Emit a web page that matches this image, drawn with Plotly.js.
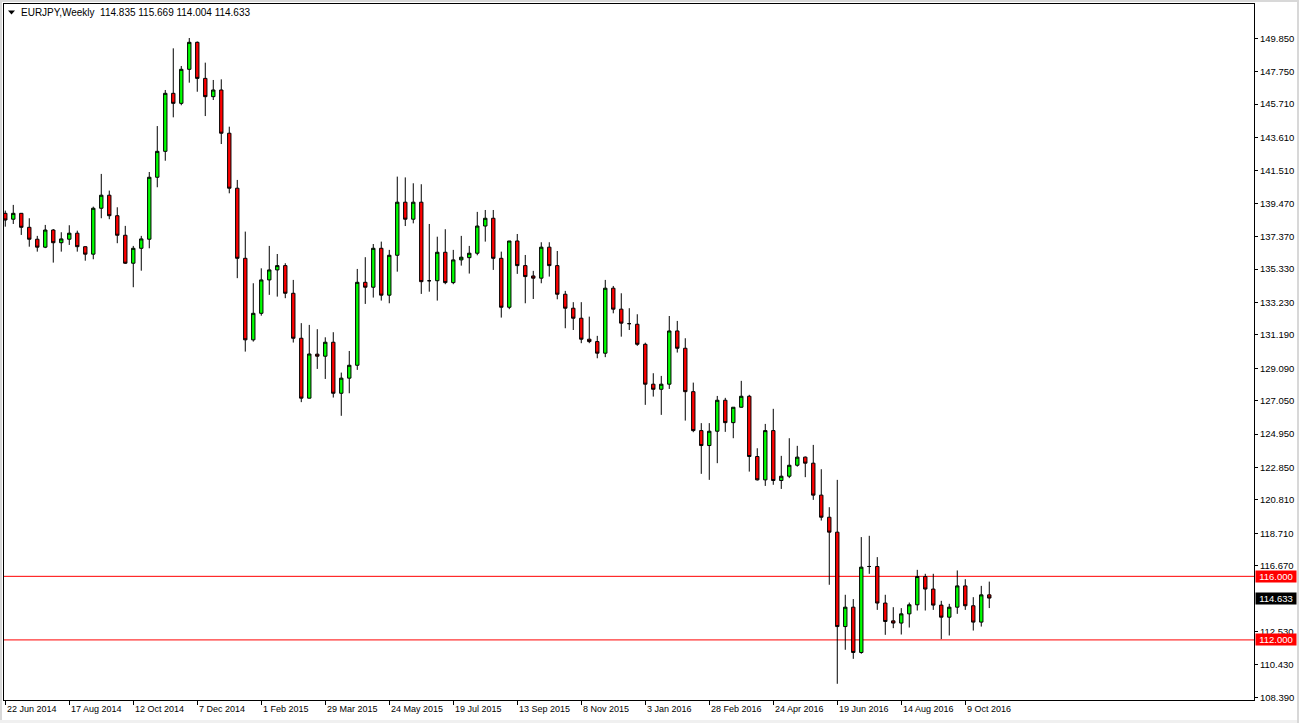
<!DOCTYPE html>
<html>
<head>
<meta charset="utf-8">
<script src="https://cdn.plot.ly/plotly-3.0.1.min.js"></script>
<style>html,body{margin:0;padding:0;background:#fff;}#chart{width:1299px;height:723px;}</style>
</head>
<body>
<div id="chart"></div>
<script>
// Weekly EURJPY candles, first week 22 Jun 2014
const weekIndex = [];
const openPrices = [138.84,138.47,138.84,137.96,137.21,136.71,137.79,136.99,137.21,137.59,136.74,136.27,139.16,139.98,138.69,137.46,135.70,136.64,137.21,141.11,142.74,146.39,145.76,147.90,149.60,147.33,146.18,146.60,143.88,140.42,136.01,130.88,132.55,134.65,135.28,135.55,133.81,130.98,127.21,129.98,129.85,130.73,127.52,128.47,129.28,134.50,134.19,136.64,133.69,136.20,139.54,138.47,139.54,134.60,134.60,136.39,134.48,135.91,136.05,136.33,138.04,138.53,136.01,132.93,137.10,135.55,134.90,134.76,136.71,135.55,133.75,132.87,132.24,130.92,130.77,130.04,134.13,132.81,131.90,131.86,130.60,128.09,127.77,128.09,131.44,130.35,127.62,125.17,124.23,125.13,127.08,125.67,126.64,127.33,123.54,122.07,125.17,122.03,122.30,122.99,123.50,123.12,121.11,119.72,118.78,112.84,114.06,111.21,116.62,116.62,114.32,113.20,113.06,113.64,114.21,115.99,115.20,114.19,113.43,114.06,115.40,114.15,113.12,114.835];
const highPrices = [139.01,139.37,138.86,138.53,137.42,138.11,137.85,137.65,138.09,137.75,136.76,139.26,141.32,140.27,139.22,138.05,136.79,137.42,141.44,144.33,146.60,149.22,148.11,149.87,149.65,148.32,147.23,147.27,144.29,140.94,137.69,134.44,135.38,136.79,136.28,135.70,134.65,131.93,131.82,131.55,131.04,131.36,128.82,130.18,135.34,136.08,136.91,137.06,136.54,141.15,141.10,140.73,140.67,138.17,137.37,137.84,136.54,137.42,136.79,138.93,139.05,139.05,136.43,137.10,137.54,136.22,135.22,137.02,137.02,136.47,133.96,133.25,133.25,132.34,131.13,134.65,134.27,133.81,132.87,132.49,130.70,128.78,128.61,132.38,132.07,130.98,128.19,125.64,125.64,127.35,127.23,126.64,128.30,127.42,124.06,125.59,126.54,123.58,124.69,124.21,123.54,124.27,122.74,120.35,122.07,114.84,114.57,118.47,118.55,117.21,114.84,114.06,114.00,114.35,116.41,116.16,116.16,114.46,114.27,116.37,115.82,114.69,115.40,115.669];
const lowPrices = [138.00,138.17,137.48,136.74,136.43,136.65,135.74,136.43,136.85,136.43,135.86,135.95,138.53,138.47,136.96,135.65,134.19,135.23,136.64,140.48,142.15,144.88,145.64,147.06,146.49,144.96,145.97,143.20,140.10,134.76,130.14,130.77,132.40,133.71,133.60,133.50,130.71,126.96,127.20,129.05,128.42,127.25,126.10,127.52,128.99,133.14,133.54,133.35,133.18,135.17,138.04,138.21,133.77,133.91,133.35,134.38,134.38,135.55,135.05,136.20,137.06,135.28,132.28,132.81,135.03,133.18,133.45,134.44,134.86,133.43,131.61,131.50,130.67,130.67,129.72,129.79,132.55,131.08,131.50,130.50,126.79,127.31,126.16,127.79,130.08,125.80,125.07,122.45,122.07,123.12,125.09,124.69,126.62,122.59,122.03,121.69,121.76,121.50,122.18,122.90,122.24,120.81,119.51,115.47,109.24,111.38,110.81,111.13,116.16,113.89,112.32,112.74,112.34,112.78,113.85,113.85,113.89,112.05,112.28,113.64,113.89,112.59,112.84,114.004];
const closePrices = [138.42,138.84,137.96,137.21,136.71,137.79,136.99,137.23,137.59,136.74,136.27,139.16,139.98,138.69,137.46,135.70,136.64,137.23,141.11,142.74,146.39,145.76,147.90,149.60,147.33,146.18,146.60,143.88,140.42,136.01,130.88,132.55,134.65,135.28,135.55,133.81,130.98,127.21,129.99,129.85,130.73,127.52,128.47,129.28,134.50,134.19,136.64,133.69,136.20,139.54,138.47,139.54,134.54,134.60,136.39,134.48,135.91,136.08,136.33,138.04,138.53,136.01,132.93,137.10,135.55,134.86,134.76,136.71,135.55,133.75,132.87,132.24,130.92,130.77,130.04,134.13,132.81,131.93,131.90,130.60,128.09,127.77,128.09,131.44,130.35,127.62,125.17,124.23,125.13,127.08,125.67,126.64,127.33,123.54,122.07,125.17,122.03,122.30,122.99,123.50,123.12,121.11,119.72,118.78,112.84,114.06,111.21,116.58,116.62,114.32,113.16,113.06,113.64,114.21,115.99,115.20,114.19,113.43,114.06,115.40,114.15,113.12,114.835,114.633];
for (let i = 0; i < openPrices.length; i++) weekIndex.push(i);

const dateTickLabels = ["22 Jun 2014","17 Aug 2014","12 Oct 2014","7 Dec 2014","1 Feb 2015","29 Mar 2015","24 May 2015","19 Jul 2015","13 Sep 2015","8 Nov 2015","3 Jan 2016","28 Feb 2016","24 Apr 2016","19 Jun 2016","14 Aug 2016","9 Oct 2016"];
const dateTickWeeks = [0,8,16,24,32,40,48,56,64,72,80,88,96,104,112,120];
const priceTicks = [149.850,147.750,145.710,143.610,141.510,139.470,137.370,135.330,133.230,131.190,129.090,127.050,124.950,122.850,120.810,118.710,116.670,112.530,110.430,108.390];
const levelLines = [116.000, 112.000];
const lastClose = 114.633;
const headerText = "EURJPY,Weekly  114.835 115.669 114.004 114.633";

const FONT = "Liberation Sans, Arial, sans-serif";
// pixel helpers (plot area: x 4..1254, y 4..700)
const px = v => (v - 4) / 1250;
const py = v => (700 - v) / 696;

const trace = {
  type: 'candlestick',
  x: weekIndex, open: openPrices, high: highPrices, low: lowPrices, close: closePrices,
  increasing: {line: {color: '#000000', width: 1}, fillcolor: '#00ff00'},
  decreasing: {line: {color: '#000000', width: 1}, fillcolor: '#ff0000'},
  whiskerwidth: 0,
  hoverinfo: 'skip'
};

const shapes = levelLines.map(v => ({
  type: 'line', xref: 'paper', yref: 'y', x0: 0, x1: 1, y0: v, y1: v,
  line: {color: '#ff0000', width: 1}, layer: 'below'
}));
// header triangle
shapes.push({type: 'path', xref: 'paper', yref: 'paper',
  path: `M ${px(8)} ${py(10.5)} L ${px(15)} ${py(10.5)} L ${px(11.5)} ${py(14.5)} Z`,
  fillcolor: '#000', line: {width: 0}});
// light grey window borders
const grey = '#d8d8d8';
shapes.push({type:'rect', xref:'paper', yref:'paper', x0: px(0), x1: px(2), y0: py(723), y1: py(0), fillcolor: grey, line:{width:0}});
shapes.push({type:'rect', xref:'paper', yref:'paper', x0: px(0), x1: px(1299), y0: py(2), y1: py(0), fillcolor: grey, line:{width:0}});
shapes.push({type:'rect', xref:'paper', yref:'paper', x0: px(0), x1: px(1299), y0: py(723), y1: py(720), fillcolor: '#f0f0f0', line:{width:0}});
shapes.push({type:'rect', xref:'paper', yref:'paper', x0: px(1297), x1: px(1299), y0: py(723), y1: py(0), fillcolor: grey, line:{width:0}});

const annotations = dateTickLabels.map((t, k) => ({
  text: t, xref: 'x', yref: 'paper', x: dateTickWeeks[k], y: py(702),
  xanchor: 'left', yanchor: 'top', xshift: 0, showarrow: false,
  font: {family: FONT, size: 9, color: '#000'}
}));
annotations.push({text: headerText, xref: 'paper', yref: 'paper', x: px(19), y: py(12.5),
  xanchor: 'left', yanchor: 'middle', showarrow: false, font: {family: FONT, size: 10, color: '#000'}});
levelLines.forEach(v => annotations.push({
  text: v.toFixed(3), xref: 'paper', yref: 'y', x: px(1255), y: v, xanchor: 'left', yanchor: 'middle',
  showarrow: false, bgcolor: '#ff0000', width: 40, height: 11, borderpad: 0, align: 'center',
  font: {family: FONT, size: 9.5, color: '#ffffff'}
}));
annotations.push({text: lastClose.toFixed(3), xref: 'paper', yref: 'y', x: px(1255), y: lastClose,
  xanchor: 'left', yanchor: 'middle', showarrow: false, bgcolor: '#000000', width: 40, height: 11,
  borderpad: 0, align: 'center', font: {family: FONT, size: 9.5, color: '#ffffff'}});

const layout = {
  width: 1299, height: 723,
  margin: {l: 4, r: 45, t: 4, b: 23, pad: 0},
  paper_bgcolor: '#ffffff', plot_bgcolor: '#ffffff',
  showlegend: false,
  boxgap: 0.4,
  xaxis: {
    range: [-0.16, 156.09], showline: true, mirror: true, linecolor: '#000', linewidth: 1,
    ticks: 'outside', ticklen: 4, tickcolor: '#000', tickvals: dateTickWeeks, showticklabels: false,
    showgrid: false, zeroline: false, rangeslider: {visible: false}, fixedrange: true
  },
  yaxis: {
    side: 'right', range: [108.22, 152.01], showline: true, mirror: true, linecolor: '#000', linewidth: 1,
    ticks: 'outside', ticklen: 3, tickcolor: '#000', tickvals: priceTicks, tickformat: '.3f',
    tickfont: {family: FONT, size: 9.5, color: '#000'},
    showgrid: false, zeroline: false, fixedrange: true
  },
  shapes: shapes,
  annotations: annotations
};

Plotly.newPlot('chart', [trace], layout, {displayModeBar: false, staticPlot: true});
</script>
</body>
</html>
